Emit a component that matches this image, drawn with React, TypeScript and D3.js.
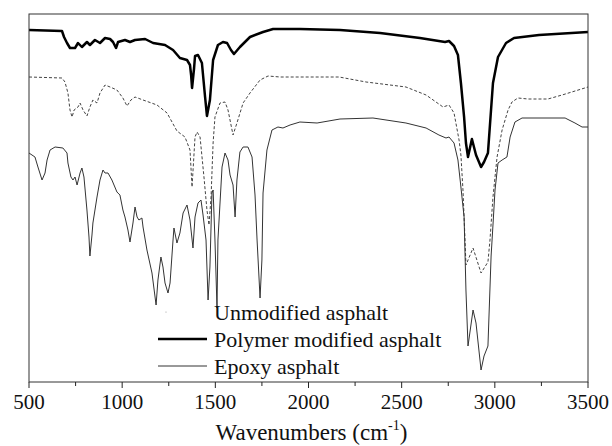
import React, { useMemo } from "react";
import * as d3 from "d3";

const WIDTH = 612;
const HEIGHT = 446;
const MARGIN = { top: 14, right: 24, bottom: 64, left: 29 };

// [wavenumber cm-1, transmittance a.u.]
const polymerModified: [number, number][] = [
  [500, 352], [677, 351], [688, 345], [704, 339], [720, 334], [747, 334], [763, 339],
  [784, 335], [811, 340], [827, 337], [854, 342], [881, 339], [908, 344], [935, 343],
  [951, 340], [967, 334], [978, 340], [1015, 342], [1042, 340], [1069, 342], [1123, 343],
  [1166, 339], [1230, 337], [1273, 332], [1310, 324], [1348, 322], [1364, 317], [1370, 307],
  [1375, 294], [1386, 314], [1391, 326], [1407, 327], [1428, 319], [1445, 285], [1455, 266],
  [1471, 282], [1488, 322], [1514, 337], [1541, 340], [1563, 339], [1584, 332], [1600, 328],
  [1632, 335], [1686, 345], [1756, 350], [1810, 353], [1954, 353], [2169, 352], [2384, 349],
  [2598, 344], [2733, 340], [2754, 341], [2781, 336], [2802, 327], [2818, 299], [2835, 265],
  [2845, 239], [2856, 225], [2877, 243], [2899, 227], [2926, 215], [2942, 220], [2963, 229],
  [2990, 299], [3017, 325], [3060, 339], [3103, 344], [3237, 347], [3500, 350],
];

const unmodified: [number, number][] = [
  [500, 305], [677, 304], [693, 300], [709, 289], [720, 272], [731, 265], [742, 272],
  [763, 275], [774, 279], [790, 272], [811, 266], [827, 275], [843, 282], [865, 279],
  [881, 289], [908, 297], [935, 295], [972, 292], [1004, 284], [1026, 276], [1047, 282],
  [1069, 285], [1112, 282], [1187, 277], [1241, 269], [1294, 251], [1337, 245], [1364, 232],
  [1375, 195], [1391, 245], [1402, 250], [1418, 245], [1439, 205], [1455, 172], [1466, 157],
  [1477, 185], [1488, 239], [1498, 265], [1525, 279], [1552, 280], [1568, 272], [1595, 247],
  [1616, 259], [1649, 279], [1686, 289], [1740, 302], [1783, 306], [1847, 305], [1938, 305],
  [2164, 305], [2309, 300], [2523, 295], [2631, 287], [2722, 275], [2754, 277], [2781, 269],
  [2808, 242], [2818, 227], [2829, 192], [2840, 142], [2845, 117], [2883, 134], [2926, 109],
  [2963, 120], [2974, 142], [2990, 185], [3012, 225], [3039, 252], [3071, 272], [3092, 280],
  [3124, 284], [3178, 283], [3285, 283], [3361, 287], [3500, 295],
];

const epoxy: [number, number][] = [
  [500, 229], [532, 225], [548, 215], [570, 202], [586, 209], [597, 222], [613, 232],
  [640, 235], [682, 234], [704, 229], [709, 219], [725, 205], [736, 202], [747, 205],
  [758, 197], [774, 209], [784, 214], [795, 205], [811, 172], [822, 145], [827, 126],
  [838, 147], [843, 159], [865, 185], [881, 202], [897, 212], [908, 209], [924, 209],
  [945, 202], [972, 190], [988, 187], [1004, 172], [1015, 165], [1031, 152], [1042, 140],
  [1058, 159], [1069, 175], [1080, 165], [1090, 162], [1106, 164], [1112, 155], [1133, 132],
  [1160, 109], [1182, 77], [1192, 102], [1208, 125], [1219, 115], [1230, 99], [1246, 89],
  [1257, 99], [1273, 142], [1278, 154], [1294, 139], [1310, 149], [1327, 169], [1348, 177],
  [1364, 162], [1380, 134], [1391, 165], [1407, 179], [1423, 182], [1434, 167], [1450, 142],
  [1461, 82], [1471, 115], [1482, 189], [1488, 192], [1498, 142], [1509, 74], [1514, 142],
  [1536, 215], [1552, 229], [1568, 222], [1579, 207], [1595, 197], [1606, 165], [1616, 202],
  [1632, 230], [1649, 235], [1675, 235], [1697, 225], [1713, 187], [1724, 142], [1740, 84],
  [1750, 122], [1756, 189], [1777, 232], [1804, 252], [1836, 255], [1863, 254], [1901, 257],
  [1954, 260], [2046, 259], [2169, 263], [2346, 264], [2523, 259], [2631, 254], [2700, 247],
  [2738, 244], [2754, 245], [2781, 239], [2802, 222], [2818, 195], [2835, 165], [2845, 92],
  [2856, 36], [2883, 72], [2899, 59], [2926, 12], [2942, 26], [2963, 36], [2980, 126],
  [2990, 157], [3001, 192], [3017, 219], [3039, 222], [3065, 225], [3082, 245], [3108, 260],
  [3146, 264], [3377, 264], [3430, 259], [3468, 255], [3500, 255],
];

const majorTicks = [500, 1000, 1500, 2000, 2500, 3000, 3500];
const minorTicks = [750, 1250, 1750, 2250, 2750, 3250];
const legendLabels = ["Unmodified asphalt", "Polymer modified asphalt", "Epoxy asphalt"];

const FONT = "Liberation Serif";

const App = () => {
  const boundsWidth = WIDTH - MARGIN.left - MARGIN.right;
  const boundsHeight = HEIGHT - MARGIN.top - MARGIN.bottom;

  const xScale = useMemo(
    () => d3.scaleLinear().domain([500, 3500]).range([0, boundsWidth]),
    [boundsWidth]
  );
  const yScale = useMemo(
    () => d3.scaleLinear().domain([0, 368]).range([boundsHeight, 0]),
    [boundsHeight]
  );

  const line = d3
    .line<[number, number]>()
    .x((d) => xScale(d[0]))
    .y((d) => yScale(d[1]));

  const fmt = d3.format("d");
  const legendX = 158;
  const legendY = [312, 339, 366];

  return (
    <svg
      width={WIDTH}
      height={HEIGHT}
      style={{ position: "absolute", left: 0, top: 0, background: "#fff" }}
    >
      <g transform={`translate(${MARGIN.left},${MARGIN.top})`}>
        <path d={line(unmodified) ?? ""} fill="none" stroke="#444" strokeWidth={1} strokeDasharray="3,2" />
        <path d={line(epoxy) ?? ""} fill="none" stroke="#333" strokeWidth={1} />
        <path d={line(polymerModified) ?? ""} fill="none" stroke="#000" strokeWidth={2.5} strokeLinejoin="round" />
        <rect x={0} y={0} width={boundsWidth} height={boundsHeight} fill="none" stroke="#333" strokeWidth={1} />

        {/* bottom axis */}
        <g transform={`translate(0,${boundsHeight})`}>
          {majorTicks.map((t) => (
            <g key={t} transform={`translate(${xScale(t)},0)`}>
              <line y1={0} y2={6} stroke="#222" />
              <text y={27} textAnchor="middle" fontFamily={FONT} fontSize={21} fill="#111">
                {fmt(t)}
              </text>
            </g>
          ))}
          {minorTicks.map((t) => (
            <line key={t} x1={xScale(t)} x2={xScale(t)} y1={0} y2={4} stroke="#222" />
          ))}
        </g>
      </g>

      {/* legend */}
      <g fontFamily={FONT} fontSize={22} fill="#111">
        <circle cx={166} cy={legendY[0]} r={0.6} fill="#999" />
        <line x1={legendX} x2={legendX + 49} y1={legendY[1]} y2={legendY[1]} stroke="#000" strokeWidth={2.5} />
        <line x1={legendX} x2={legendX + 49} y1={legendY[2]} y2={legendY[2]} stroke="#333" strokeWidth={1} />
        {legendLabels.map((label, i) => (
          <text key={label} x={214} y={legendY[i] + 8}>
            {label}
          </text>
        ))}
      </g>

      <text
        x={MARGIN.left + boundsWidth / 2 + 3}
        y={440}
        textAnchor="middle"
        fontFamily={FONT}
        fontSize={23}
        fill="#111"
      >
        Wavenumbers (cm
        <tspan dy={-10} fontSize={14}>-1</tspan>
        <tspan dy={10}>)</tspan>
      </text>
    </svg>
  );
};

export default App;
